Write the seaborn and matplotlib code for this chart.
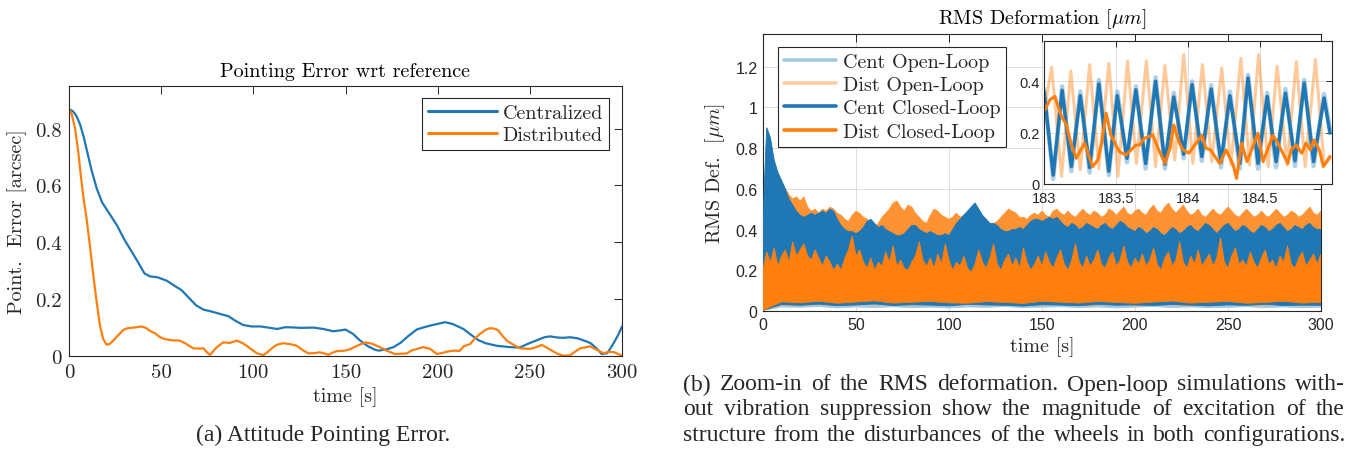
import numpy as np
import pandas as pd
import matplotlib
matplotlib.use("Agg")
import matplotlib.pyplot as plt
import seaborn as sns
from matplotlib.lines import Line2D

# ---------------- data: (a) pointing error ----------------
pe_cent_t = [0, 2, 4, 6, 8, 10, 12, 15, 18, 20.5, 23, 26, 30, 33, 37, 41, 44, 48, 53, 57, 61, 65, 69, 73, 77,
             82, 86.5, 90, 94.5, 99, 104, 108, 113, 117, 120, 126, 132.6, 138, 143.4, 147, 150, 154, 158, 162,
             166, 168, 172, 176, 180, 184, 188.6, 192, 196, 200, 204, 208, 211, 214, 218, 222, 226, 232, 238,
             242, 245, 249, 254, 258, 261, 265, 268, 272, 276, 280, 283, 286, 289, 292, 295, 298, 300]
pe_cent_v = [0.868, 0.862, 0.845, 0.815, 0.77, 0.715, 0.66, 0.59, 0.54, 0.515, 0.49, 0.46, 0.41, 0.378, 0.335,
             0.29, 0.28, 0.277, 0.265, 0.248, 0.232, 0.205, 0.178, 0.163, 0.157, 0.148, 0.14, 0.125, 0.109,
             0.104, 0.104, 0.1, 0.095, 0.101, 0.101, 0.099, 0.1, 0.095, 0.087, 0.09, 0.093, 0.078, 0.054, 0.035,
             0.022, 0.019, 0.023, 0.031, 0.047, 0.07, 0.093, 0.1, 0.107, 0.113, 0.119, 0.113, 0.104, 0.095,
             0.075, 0.056, 0.045, 0.036, 0.032, 0.03, 0.031, 0.043, 0.056, 0.066, 0.069, 0.065, 0.064, 0.066,
             0.062, 0.053, 0.045, 0.028, 0.007, 0.01, 0.04, 0.075, 0.103]
pe_dist_t = [0, 1.5, 3.3, 5, 6.5, 8, 9.6, 11.5, 13.2, 15, 16.8, 18.5, 20.4, 22, 24, 26.5, 29.5, 32, 35, 39.4, 42,
             44, 46.7, 49, 51.2, 55, 60, 63, 67.4, 70, 72.9, 75, 76.5, 78, 80, 83.7, 87.3, 91, 94, 96.4, 99,
             101.8, 105.4, 107, 110.8, 113, 116.3, 120, 123.5, 126.5, 129.8, 133, 136, 138.5, 140.7, 143, 145.2,
             149.8, 152.5, 156, 160.6, 164.5, 168.7, 172.5, 176.9, 180, 183.2, 186, 192.2, 196, 199.5, 202, 205,
             208.5, 212, 214, 217.6, 220, 223, 226, 228.4, 231, 232.9, 235, 237.5, 241, 244.7, 250.2, 253,
             256.5, 259, 261.9, 265, 268.2, 271.8, 274.5, 277.3, 280, 282.7, 285, 287.2, 289.9, 292.5, 295.3,
             298, 300]
pe_dist_v = [0.868, 0.85, 0.80, 0.72, 0.63, 0.55, 0.48, 0.38, 0.283, 0.19, 0.107, 0.06, 0.04, 0.042, 0.054,
             0.072, 0.092, 0.098, 0.1, 0.104, 0.098, 0.088, 0.08, 0.068, 0.061, 0.056, 0.054, 0.045, 0.027,
             0.026, 0.027, 0.012, 0.004, 0.015, 0.03, 0.048, 0.046, 0.054, 0.046, 0.036, 0.023, 0.01, 0.003,
             0.01, 0.031, 0.04, 0.045, 0.042, 0.036, 0.022, 0.009, 0.01, 0.013, 0.009, 0.004, 0.012, 0.017,
             0.019, 0.024, 0.035, 0.048, 0.043, 0.031, 0.018, 0.007, 0.008, 0.009, 0.02, 0.031, 0.025, 0.007,
             0.01, 0.015, 0.019, 0.018, 0.034, 0.042, 0.06, 0.078, 0.092, 0.098, 0.096, 0.09, 0.072, 0.054,
             0.04, 0.027, 0.025, 0.03, 0.039, 0.03, 0.019, 0.008, 0.001, 0.002, 0.015, 0.027, 0.03, 0.034,
             0.026, 0.019, 0.01, 0.014, 0.014, 0.007, 0.001]

# ---------------- data: (b) RMS deformation (band envelopes) ----------------
env_t = np.arange(0, 301, 2)          # upper envelopes sampled every 2 s
dol_hi = [0.30, 0.80, 0.74, 0.70, 0.66, 0.62, 0.60, 0.57, 0.55, 0.56, 0.54, 0.56, 0.51, 0.49, 0.50, 0.48,
          0.50, 0.49, 0.51, 0.50, 0.48, 0.47, 0.45, 0.44, 0.47, 0.49, 0.48, 0.46, 0.45, 0.43, 0.41, 0.43,
          0.46, 0.48, 0.50, 0.53, 0.54, 0.51, 0.49, 0.52, 0.51, 0.48, 0.46, 0.44, 0.43, 0.47, 0.50, 0.49,
          0.47, 0.46, 0.45, 0.46, 0.48, 0.46, 0.47, 0.48, 0.47, 0.49, 0.47, 0.45, 0.43, 0.42, 0.43, 0.44,
          0.46, 0.48, 0.50, 0.49, 0.48, 0.46, 0.46, 0.45, 0.47, 0.48, 0.47, 0.49, 0.47, 0.46, 0.49, 0.50,
          0.48, 0.47, 0.49, 0.47, 0.46, 0.48, 0.50, 0.48, 0.47, 0.49, 0.48, 0.46, 0.47, 0.50, 0.49, 0.47,
          0.49, 0.51, 0.48, 0.47, 0.49, 0.50, 0.48, 0.47, 0.50, 0.52, 0.49, 0.48, 0.51, 0.53, 0.50, 0.48,
          0.50, 0.52, 0.49, 0.47, 0.48, 0.50, 0.47, 0.46, 0.48, 0.50, 0.48, 0.47, 0.49, 0.51, 0.49, 0.47,
          0.46, 0.48, 0.50, 0.48, 0.46, 0.47, 0.49, 0.47, 0.46, 0.48, 0.50, 0.48, 0.46, 0.47, 0.49, 0.48,
          0.46, 0.47, 0.49, 0.51, 0.48, 0.47, 0.49]
ccl_hi = [0.45, 0.90, 0.85, 0.74, 0.68, 0.64, 0.60, 0.55, 0.52, 0.49, 0.47, 0.46, 0.47, 0.48, 0.47, 0.48,
          0.49, 0.48, 0.50, 0.49, 0.45, 0.42, 0.40, 0.39, 0.39, 0.38, 0.39, 0.41, 0.44, 0.45, 0.43, 0.41,
          0.42, 0.40, 0.39, 0.38, 0.37, 0.37, 0.38, 0.40, 0.42, 0.42, 0.40, 0.39, 0.38, 0.39, 0.38, 0.37,
          0.37, 0.38, 0.37, 0.40, 0.43, 0.45, 0.47, 0.49, 0.51, 0.53, 0.50, 0.47, 0.45, 0.43, 0.43, 0.42,
          0.40, 0.39, 0.39, 0.40, 0.40, 0.41, 0.40, 0.42, 0.44, 0.45, 0.45, 0.44, 0.45, 0.46, 0.45, 0.46,
          0.44, 0.42, 0.41, 0.43, 0.42, 0.40, 0.41, 0.43, 0.42, 0.41, 0.40, 0.42, 0.43, 0.41, 0.40, 0.42,
          0.44, 0.43, 0.41, 0.40, 0.39, 0.41, 0.40, 0.38, 0.39, 0.41, 0.40, 0.38, 0.37, 0.39, 0.41, 0.40,
          0.38, 0.39, 0.41, 0.42, 0.40, 0.39, 0.41, 0.43, 0.42, 0.40, 0.38, 0.40, 0.42, 0.43, 0.41, 0.39,
          0.40, 0.42, 0.41, 0.39, 0.38, 0.40, 0.42, 0.41, 0.39, 0.40, 0.42, 0.43, 0.41, 0.39, 0.40, 0.42,
          0.41, 0.40, 0.42, 0.43, 0.41, 0.40, 0.40]
dcl_hi = [0.20, 0.29, 0.24, 0.31, 0.22, 0.27, 0.30, 0.24, 0.34, 0.27, 0.30, 0.33, 0.27, 0.25, 0.30, 0.26,
          0.22, 0.27, 0.24, 0.20, 0.23, 0.20, 0.26, 0.30, 0.37, 0.27, 0.30, 0.24, 0.21, 0.26, 0.20, 0.24,
          0.22, 0.29, 0.24, 0.32, 0.22, 0.25, 0.21, 0.20, 0.24, 0.27, 0.34, 0.25, 0.22, 0.26, 0.21, 0.28,
          0.23, 0.33, 0.25, 0.20, 0.24, 0.22, 0.27, 0.21, 0.19, 0.23, 0.30, 0.24, 0.21, 0.26, 0.33, 0.23,
          0.20, 0.25, 0.28, 0.22, 0.26, 0.21, 0.31, 0.24, 0.20, 0.23, 0.27, 0.22, 0.29, 0.24, 0.21, 0.26,
          0.30, 0.23, 0.20, 0.25, 0.33, 0.24, 0.21, 0.27, 0.22, 0.25, 0.30, 0.23, 0.21, 0.26, 0.29, 0.22,
          0.25, 0.32, 0.24, 0.21, 0.26, 0.23, 0.28, 0.22, 0.25, 0.31, 0.23, 0.20, 0.26, 0.29, 0.22, 0.25,
          0.34, 0.24, 0.21, 0.27, 0.23, 0.30, 0.22, 0.25, 0.28, 0.22, 0.26, 0.36, 0.24, 0.21, 0.27, 0.31,
          0.23, 0.25, 0.22, 0.29, 0.24, 0.21, 0.26, 0.30, 0.23, 0.25, 0.21, 0.27, 0.24, 0.32, 0.23, 0.21,
          0.26, 0.29, 0.22, 0.25, 0.28, 0.23, 0.28]
low_t = np.arange(0, 301, 10)         # lower envelopes sampled every 10 s
dcl_lo = [0.005, 0.045, 0.040, 0.048, 0.038, 0.044, 0.050, 0.039, 0.043, 0.047, 0.040, 0.038, 0.046, 0.042,
          0.037, 0.048, 0.043, 0.039, 0.047, 0.042, 0.038, 0.044, 0.049, 0.039, 0.043, 0.047, 0.038, 0.042,
          0.048, 0.039, 0.043]
ccl_lo = [0.004, 0.032, 0.028, 0.034, 0.026, 0.030, 0.035, 0.027, 0.031, 0.029, 0.025, 0.033, 0.030, 0.028,
          0.024, 0.031, 0.029, 0.026, 0.033, 0.028, 0.030, 0.027, 0.032, 0.029, 0.025, 0.030, 0.028, 0.033,
          0.027, 0.029, 0.028]
col_lo = [0.002, 0.020, 0.018, 0.022, 0.015, 0.020, 0.017, 0.021, 0.016, 0.019, 0.015, 0.020, 0.018, 0.022,
          0.016, 0.019, 0.021, 0.017, 0.020, 0.015, 0.019, 0.022, 0.017, 0.020, 0.016, 0.018, 0.021, 0.017,
          0.020, 0.016, 0.019]
dol_lo = [0.003, 0.030, 0.028, 0.032, 0.027, 0.030, 0.033, 0.028, 0.031, 0.029, 0.027, 0.032, 0.030, 0.028,
          0.031, 0.029, 0.033, 0.027, 0.030, 0.032, 0.028, 0.030, 0.031, 0.027, 0.029, 0.032, 0.028, 0.030,
          0.031, 0.029, 0.030]

# ---------------- data: inset, t in [183, 185] (extrema of each oscillation) ----------------
ccl_in_t = [183.0, 183.064, 183.126, 183.19, 183.252, 183.317, 183.381, 183.45, 183.509, 183.576, 183.638,
            183.706, 183.775, 183.84, 183.901, 183.97, 184.028, 184.096, 184.161, 184.229, 184.291, 184.36,
            184.417, 184.486, 184.55, 184.612, 184.677, 184.743, 184.807, 184.872, 184.945, 184.986]
ccl_in_v = [0.36, 0.035, 0.365, 0.068, 0.344, 0.064, 0.39, 0.05, 0.344, 0.10, 0.367, 0.08, 0.40, 0.077,
            0.339, 0.116, 0.387, 0.107, 0.37, 0.085, 0.344, 0.08, 0.413, 0.08, 0.341, 0.087, 0.354, 0.09,
            0.393, 0.087, 0.335, 0.198]
col_in_v = [0.37, 0.02, 0.38, 0.05, 0.36, 0.045, 0.405, 0.035, 0.36, 0.085, 0.38, 0.06, 0.415, 0.06, 0.355,
            0.10, 0.40, 0.09, 0.385, 0.065, 0.36, 0.06, 0.425, 0.06, 0.355, 0.065, 0.37, 0.07, 0.405, 0.07,
            0.35, 0.21]
dol_in_t = [183.0, 183.053, 183.122, 183.186, 183.252, 183.317, 183.381, 183.45, 183.514, 183.58, 183.642,
            183.711, 183.775, 183.839, 183.908, 183.97, 184.034, 184.1, 184.165, 184.234, 184.298, 184.367,
            184.427, 184.49, 184.557, 184.619, 184.688, 184.752, 184.814, 184.885, 184.945, 184.986]
dol_in_v = [0.28, 0.455, 0.03, 0.44, 0.055, 0.465, 0.06, 0.47, 0.03, 0.478, 0.08, 0.48, 0.068, 0.461,
            0.094, 0.504, 0.08, 0.465, 0.087, 0.452, 0.074, 0.489, 0.074, 0.504, 0.068, 0.459, 0.074, 0.476,
            0.068, 0.485, 0.074, 0.10]
dcl_in_t = [183.0, 183.041, 183.076, 183.099, 183.122, 183.156, 183.19, 183.225, 183.248, 183.282, 183.317,
            183.339, 183.374, 183.4, 183.431, 183.465, 183.523, 183.569, 183.638, 183.665, 183.695, 183.757,
            183.791, 183.84, 183.875, 183.901, 183.936, 183.963, 184.005, 184.097, 184.124, 184.156, 184.22,
            184.264, 184.314, 184.337, 184.372, 184.41, 184.486, 184.521, 184.59, 184.624, 184.663, 184.693,
            184.716, 184.751, 184.79, 184.819, 184.85, 184.873, 184.912, 184.94, 184.986]
dcl_in_v = [0.283, 0.328, 0.341, 0.30, 0.263, 0.23, 0.152, 0.10, 0.126, 0.159, 0.10, 0.068, 0.094, 0.16,
            0.276, 0.19, 0.126, 0.113, 0.152, 0.152, 0.178, 0.19, 0.14, 0.081, 0.14, 0.23, 0.165, 0.135,
            0.12, 0.19, 0.14, 0.133, 0.08, 0.133, 0.074, 0.022, 0.159, 0.087, 0.198, 0.087, 0.19, 0.159,
            0.115, 0.08, 0.133, 0.152, 0.12, 0.159, 0.133, 0.172, 0.133, 0.068, 0.107]

# ---------------- ticks and labels ----------------
a_xticks = [0, 50, 100, 150, 200, 250, 300]
a_yticks = [0, 0.2, 0.4, 0.6, 0.8]
a_ylabels = ["0", "0.2", "0.4", "0.6", "0.8"]
b_yticks = [0, 0.2, 0.4, 0.6, 0.8, 1.0, 1.2]
b_ylabels = ["0", "0.2", "0.4", "0.6", "0.8", "1", "1.2"]
in_xticks = [183, 183.5, 184, 184.5]
in_xlabels = ["183", "183.5", "184", "184.5"]
in_yticks = [0, 0.2, 0.4]
in_ylabels = ["0", "0.2", "0.4"]
caption_a = "(a) Attitude Pointing Error."
caption_b = ["(b) Zoom-in of the RMS deformation. Open-loop simulations with-",
             "out vibration suppression show the magnitude of excitation of the",
             "structure from the disturbances of the wheels in both configurations."]

# ---------------- style ----------------
sns.set_theme(style="white")
plt.rcParams["font.family"] = ["cmr10", "DejaVu Serif"]
plt.rcParams["mathtext.fontset"] = "cm"
plt.rcParams["axes.unicode_minus"] = False
plt.rcParams["axes.formatter.use_mathtext"] = True

BLUE = "#1f77b4"
ORANGE = "#ff7f0e"
LBLUE = "#a5c8e1"
LORANGE = "#ffcb9f"
AX = "#262626"
CM = ["cmr10", "DejaVu Serif"]
SANS = ["Liberation Sans", "DejaVu Sans"]
SERIF = ["Liberation Serif", "DejaVu Serif"]

W, H = 1353, 452
fig = plt.figure(figsize=(W / 100, H / 100), dpi=100)
fig.patch.set_facecolor("white")


def px_axes(l, t, r, b):
    return fig.add_axes([l / W, 1 - b / H, (r - l) / W, (b - t) / H])


def style_box(ax, lw=0.8):
    for s in ax.spines.values():
        s.set_color(AX)
        s.set_linewidth(lw)
        s.set_visible(True)
    ax.tick_params(direction="in", top=True, right=True, length=5.5, width=0.7,
                   color=AX, labelcolor=AX, pad=5)


# ---------------- (a) ----------------
axa = px_axes(69, 87, 622, 357)
dfa = pd.concat([
    pd.DataFrame({"t": pe_cent_t, "v": pe_cent_v, "s": "Centralized"}),
    pd.DataFrame({"t": pe_dist_t, "v": pe_dist_v, "s": "Distributed"}),
])
sns.lineplot(data=dfa, x="t", y="v", hue="s", palette=[BLUE, ORANGE], estimator=None,
             sort=False, linewidth=1.6, ax=axa)
axa.set_xlim(0, 300)
axa.set_ylim(0, 0.95)
axa.set_xticks(a_xticks)
axa.set_xticklabels([str(v) for v in a_xticks], fontfamily=CM, fontsize=15)
axa.set_yticks(a_yticks)
axa.set_yticklabels(a_ylabels, fontfamily=CM, fontsize=15)
style_box(axa)
axa.set_xlabel("time [s]", fontfamily=CM, fontsize=14.5, color=AX, labelpad=4)
axa.set_ylabel("Point.  Error [arcsec]", fontfamily=CM, fontsize=14.5, color=AX, labelpad=6)
axa.set_title("Pointing Error wrt reference", fontfamily=CM, fontsize=14.5, color="black", pad=7)
leg = axa.legend(loc="upper right", bbox_to_anchor=(0.9765, 0.9556), borderaxespad=0,
                 prop={"family": CM, "size": 14.5}, frameon=True, fancybox=False,
                 framealpha=1, edgecolor=AX, handlelength=3.4, handletextpad=0.3,
                 borderpad=0.3, labelspacing=0.2)
leg.get_frame().set_linewidth(0.8)
for ln in leg.get_lines():
    ln.set_linewidth(2.2)

# ---------------- (b) main ----------------
axb = px_axes(763, 35, 1321, 312)


def band(ax, hi, lo, color, z):
    xs = np.concatenate([env_t, low_t[::-1]])
    ys = np.concatenate([hi, np.asarray(lo)[::-1]])
    ax.fill(xs, ys, color=color, lw=0.6, ec=color, zorder=z)


band(axb, ccl_hi, col_lo, LBLUE, 2)
band(axb, dol_hi, dol_lo, "#ff9233", 3)
band(axb, ccl_hi, ccl_lo, BLUE, 4)
band(axb, dcl_hi, dcl_lo, ORANGE, 5)
axb.set_xlim(0, 300)
axb.set_ylim(0, 1.36)
axb.set_xticks(a_xticks)
axb.set_xticklabels([str(v) for v in a_xticks], fontfamily=SANS, fontsize=11.5)
axb.set_yticks(b_yticks)
axb.set_yticklabels(b_ylabels, fontfamily=SANS, fontsize=11.5)
axb.grid(True, color="#dddddd", linewidth=0.7)
axb.set_axisbelow(True)
style_box(axb)
axb.tick_params(pad=4)
axb.set_xlabel("time [s]", fontfamily=CM, fontsize=14.5, color=AX, labelpad=3)
axb.set_ylabel(r"RMS Def.  [$\mu m$]", fontfamily=CM, fontsize=14.5, color=AX, labelpad=6)
axb.set_title(r"RMS Deformation [$\mu m$]", fontfamily=CM, fontsize=14.5, color="black", pad=8)
handles = [Line2D([], [], color=LBLUE, lw=2.6), Line2D([], [], color=LORANGE, lw=2.6),
           Line2D([], [], color=BLUE, lw=2.6), Line2D([], [], color=ORANGE, lw=2.6)]
labels = ["Cent Open-Loop", "Dist Open-Loop", "Cent Closed-Loop", "Dist Closed-Loop"]
legb = axb.legend(handles, labels, loc="upper left", bbox_to_anchor=(0.027, 0.953), borderaxespad=0,
                  prop={"family": CM, "size": 14.5}, frameon=True, fancybox=False, framealpha=1,
                  edgecolor=AX, handlelength=2.6, handletextpad=0.3, borderpad=0.3, labelspacing=0.25)
legb.get_frame().set_linewidth(0.8)
legb.set_zorder(10)

# ---------------- (b) inset ----------------
axi = px_axes(1044, 42, 1332, 185)
axi.set_zorder(20)
axi.set_facecolor("white")
sns.lineplot(x=ccl_in_t, y=col_in_v, color=BLUE, alpha=0.35, linewidth=3.2, estimator=None, sort=False, ax=axi)
sns.lineplot(x=dol_in_t, y=dol_in_v, color=ORANGE, alpha=0.42, linewidth=2.2, estimator=None, sort=False, ax=axi)
sns.lineplot(x=ccl_in_t, y=ccl_in_v, color=BLUE, linewidth=2.5, estimator=None, sort=False, ax=axi)
sns.lineplot(x=dcl_in_t, y=dcl_in_v, color=ORANGE, linewidth=2.2, estimator=None, sort=False, ax=axi)
axi.set_xlim(183, 185)
axi.set_ylim(0, 0.557)
axi.set_xticks(in_xticks)
axi.set_xticklabels(in_xlabels, fontfamily=SANS, fontsize=10.5)
axi.set_yticks(in_yticks)
axi.set_yticklabels(in_ylabels, fontfamily=SANS, fontsize=10.5)
axi.grid(True, color="#dddddd", linewidth=0.7)
axi.set_axisbelow(True)
style_box(axi)
axi.tick_params(axis="x", pad=5, length=4)
axi.tick_params(axis="y", pad=3, length=4)

# ---------------- captions ----------------
fig.text(323 / W, 1 - 435 / H, caption_a, ha="center", va="center", fontfamily=SERIF, fontsize=17)

renderer = fig.canvas.get_renderer()


def justify(lines, x0, x1, ys, **kw):
    for line, ypx in zip(lines, ys):
        words = line.split(" ")
        texts = [fig.text(0, 1 - ypx / H, w, ha="left", va="center", **kw) for w in words]
        widths = [t.get_window_extent(renderer=renderer).width for t in texts]
        gap = (x1 - x0 - sum(widths)) / (len(words) - 1)
        x = x0
        for t, w in zip(texts, widths):
            t.set_x(x / W)
            x += w + gap


justify(caption_b, 683, 1345, [385, 410, 436], fontfamily=SERIF, fontsize=17)

fig.savefig("out.png", dpi=100, facecolor="white")
